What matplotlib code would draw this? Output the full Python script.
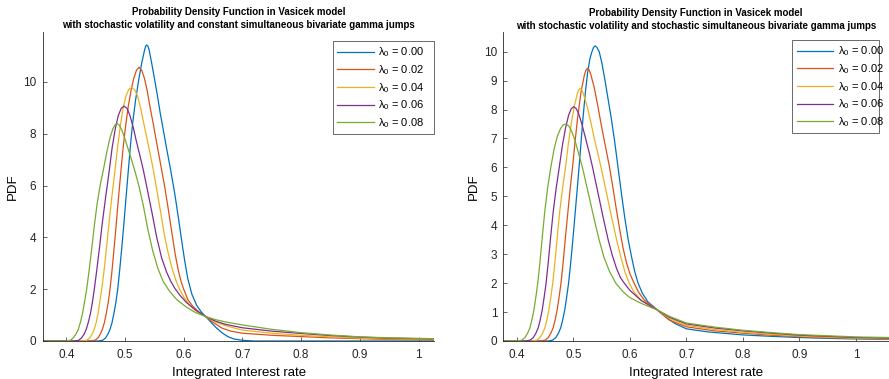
import matplotlib
matplotlib.use("Agg")
import matplotlib.pyplot as plt

plt.rcParams['font.family'] = ['Liberation Sans', 'DejaVu Sans']
plt.rcParams['mathtext.fontset'] = 'custom'
plt.rcParams['mathtext.rm'] = 'Liberation Sans'
plt.rcParams['mathtext.it'] = 'Liberation Sans'

labels = ['$\\lambda_0$ = 0.00', '$\\lambda_0$ = 0.02', '$\\lambda_0$ = 0.04',
          '$\\lambda_0$ = 0.06', '$\\lambda_0$ = 0.08']
colors = ['#0072BD', '#D95319', '#EDB120', '#7E2F8E', '#77AC30']

titles = ['Probability Density Function in Vasicek model\n'
          'with stochastic volatility and constant simultaneous bivariate gamma jumps',
          'Probability Density Function in Vasicek model\n'
          'with stochastic volatility and stochastic simultaneous bivariate gamma jumps']

# ---- left panel: constant jumps ----
a_x0 = [0.3608, 0.455, 0.462, 0.467, 0.471, 0.4745, 0.478, 0.481, 0.4845, 0.4876,
        0.491, 0.4945, 0.498, 0.5018, 0.5057, 0.5095, 0.513, 0.518, 0.5235, 0.5284,
        0.533, 0.535, 0.537, 0.539, 0.541, 0.5455, 0.550, 0.555, 0.560, 0.566,
        0.5715, 0.5778, 0.585, 0.591, 0.597, 0.602, 0.607, 0.614, 0.622, 0.630,
        0.6375, 0.645, 0.655, 0.665, 0.675, 0.685, 0.70, 0.72, 1.0264]
a_y0 = [0, 0, 0.03, 0.12, 0.27, 0.45, 0.72, 1.05, 1.5, 2.0,
        2.75, 3.6, 4.5, 5.55, 6.6, 7.6, 8.4, 9.3, 10.1, 10.72,
        11.2, 11.37, 11.43, 11.38, 11.25, 10.72, 10.15, 9.5, 8.8, 8.05,
        7.35, 6.6, 5.65, 4.75, 3.8, 3.05, 2.4, 1.8, 1.38, 1.12,
        0.94, 0.76, 0.52, 0.32, 0.17, 0.08, 0.025, 0.0, 0.0]

a_x1 = [0.3608, 0.442, 0.449, 0.454, 0.458, 0.4615, 0.465, 0.468, 0.4715, 0.4745,
        0.478, 0.4815, 0.485, 0.489, 0.4932, 0.497, 0.501, 0.5055, 0.5105, 0.515,
        0.5195, 0.524, 0.5285, 0.533, 0.5375, 0.5425, 0.548, 0.5535, 0.558, 0.5625,
        0.568, 0.574, 0.580, 0.5855, 0.591, 0.5955, 0.600, 0.607, 0.615, 0.626,
        0.6375, 0.650, 0.665, 0.68, 0.70, 0.75, 0.80, 0.85, 0.90, 0.95, 1.0264]
a_y1 = [0, 0, 0.03, 0.12, 0.27, 0.45, 0.72, 1.05, 1.5, 2.0,
        2.75, 3.6, 4.5, 5.55, 6.6, 7.5, 8.3, 9.05, 9.7, 10.15,
        10.45, 10.57, 10.45, 10.15, 9.7, 9.05, 8.4, 7.7, 7.15, 6.6,
        5.9, 5.05, 4.15, 3.35, 2.7, 2.3, 2.0, 1.6, 1.35, 1.12,
        0.94, 0.72, 0.5, 0.38, 0.3, 0.22, 0.17, 0.12, 0.09, 0.06, 0.045]

a_x2 = [0.3608, 0.428, 0.435, 0.440, 0.444, 0.4475, 0.451, 0.454, 0.457, 0.4603,
        0.4645, 0.4685, 0.4725, 0.4775, 0.483, 0.4875, 0.492, 0.4965, 0.5015, 0.5065,
        0.5114, 0.5165, 0.5215, 0.5265, 0.532, 0.5375, 0.543, 0.5483, 0.554, 0.5605,
        0.567, 0.5735, 0.5795, 0.5865, 0.593, 0.600, 0.609, 0.620, 0.6375, 0.650,
        0.67, 0.70, 0.75, 0.80, 0.85, 0.90, 0.95, 1.0264]
a_y2 = [0, 0, 0.03, 0.12, 0.27, 0.45, 0.72, 1.05, 1.5, 2.0,
        2.75, 3.6, 4.5, 5.55, 6.6, 7.5, 8.3, 8.95, 9.45, 9.72,
        9.79, 9.7, 9.45, 9.0, 8.4, 7.8, 7.2, 6.6, 5.85, 5.0,
        4.1, 3.4, 2.85, 2.35, 2.0, 1.7, 1.42, 1.18, 0.94, 0.78,
        0.6, 0.42, 0.3, 0.22, 0.16, 0.11, 0.08, 0.06]

a_x3 = [0.3608, 0.414, 0.421, 0.426, 0.4305, 0.434, 0.4375, 0.441, 0.4445, 0.4477,
        0.452, 0.4565, 0.461, 0.467, 0.4733, 0.478, 0.4835, 0.4885, 0.4935, 0.4983,
        0.5035, 0.5085, 0.514, 0.5195, 0.5255, 0.5312, 0.538, 0.546, 0.554, 0.5625,
        0.571, 0.578, 0.585, 0.594, 0.605, 0.62, 0.6375, 0.655, 0.67, 0.70,
        0.75, 0.80, 0.85, 0.90, 0.95, 1.0264]
a_y3 = [0, 0, 0.03, 0.12, 0.27, 0.45, 0.72, 1.05, 1.5, 2.0,
        2.75, 3.6, 4.5, 5.55, 6.6, 7.45, 8.2, 8.7, 8.98, 9.07,
        8.98, 8.7, 8.25, 7.7, 7.15, 6.6, 5.85, 4.95, 4.0, 3.2,
        2.65, 2.3, 2.03, 1.75, 1.48, 1.2, 0.94, 0.76, 0.65, 0.51,
        0.38, 0.29, 0.21, 0.15, 0.11, 0.08]

a_x4 = [0.3608, 0.400, 0.407, 0.412, 0.4165, 0.4205, 0.424, 0.4275, 0.431, 0.4347,
        0.439, 0.4435, 0.448, 0.4525, 0.458, 0.4635, 0.469, 0.4745, 0.4795, 0.4835,
        0.4865, 0.4905, 0.495, 0.500, 0.5055, 0.511, 0.517, 0.524, 0.531, 0.539,
        0.547, 0.556, 0.565, 0.575, 0.588, 0.605, 0.62, 0.6375, 0.655, 0.67,
        0.70, 0.75, 0.80, 0.85, 0.90, 0.95, 1.0264]
a_y4 = [0, 0, 0.03, 0.12, 0.27, 0.45, 0.72, 1.05, 1.5, 2.0,
        2.75, 3.6, 4.5, 5.3, 6.05, 6.65, 7.3, 7.85, 8.2, 8.36,
        8.40, 8.33, 8.12, 7.8, 7.4, 7.0, 6.55, 5.95, 5.25, 4.3,
        3.5, 2.8, 2.3, 1.95, 1.6, 1.3, 1.1, 0.94, 0.82, 0.74,
        0.62, 0.45, 0.32, 0.23, 0.16, 0.12, 0.09]

# ---- right panel: stochastic jumps ----
b_x0 = [0.375, 0.455, 0.4635, 0.469, 0.4735, 0.4775, 0.481, 0.4845, 0.488, 0.4915,
        0.4955, 0.4995, 0.5035, 0.507, 0.510, 0.5135, 0.517, 0.521, 0.525, 0.5292,
        0.5328, 0.5358, 0.5386, 0.5415, 0.5457, 0.5505, 0.556, 0.5615, 0.567, 0.573,
        0.579, 0.585, 0.591, 0.597, 0.603, 0.6085, 0.6145, 0.622, 0.632, 0.6487,
        0.665, 0.68, 0.70, 0.74, 0.80, 0.85, 0.90, 0.95, 1.00, 1.0584]
b_y0 = [0, 0, 0.03, 0.12, 0.27, 0.45, 0.72, 1.05, 1.5, 2.0,
        2.75, 3.6, 4.5, 5.3, 6.0, 6.85, 7.7, 8.55, 9.25, 9.75,
        10.0, 10.15, 10.2, 10.15, 10.0, 9.6, 9.0, 8.35, 7.7, 6.9,
        6.0, 5.1, 4.25, 3.5, 2.9, 2.4, 2.0, 1.65, 1.35, 1.07,
        0.8, 0.6, 0.42, 0.31, 0.21, 0.16, 0.12, 0.09, 0.07, 0.06]

b_x1 = [0.375, 0.4416, 0.4501, 0.4556, 0.4601, 0.4641, 0.4676, 0.4711, 0.4746, 0.4781,
        0.4821, 0.486, 0.4905, 0.4945, 0.4985, 0.503, 0.508, 0.5135, 0.519, 0.522,
        0.5252, 0.528, 0.531, 0.537, 0.543, 0.5495, 0.5565, 0.564, 0.570, 0.576,
        0.582, 0.588, 0.594, 0.6005, 0.6074, 0.615, 0.626, 0.6487, 0.67, 0.70,
        0.75, 0.80, 0.85, 0.90, 0.95, 1.00, 1.0584]
b_y1 = [0, 0, 0.03, 0.12, 0.27, 0.45, 0.72, 1.05, 1.5, 2.0,
        2.75, 3.6, 4.5, 5.3, 6.0, 6.9, 7.8, 8.6, 9.15, 9.35,
        9.43, 9.37, 9.2, 8.75, 8.15, 7.45, 6.75, 6.0, 5.3, 4.55,
        3.85, 3.2, 2.7, 2.3, 2.0, 1.7, 1.4, 1.07, 0.72, 0.49,
        0.35, 0.27, 0.2, 0.15, 0.11, 0.09, 0.07]

b_x2 = [0.375, 0.427, 0.4355, 0.441, 0.4455, 0.4495, 0.453, 0.4565, 0.46, 0.4635,
        0.4675, 0.4715, 0.476, 0.481, 0.486, 0.491, 0.4965, 0.502, 0.507, 0.5095,
        0.5122, 0.515, 0.518, 0.5245, 0.531, 0.537, 0.543, 0.549, 0.5555, 0.562,
        0.569, 0.5765, 0.584, 0.591, 0.5987, 0.607, 0.62, 0.6487, 0.67, 0.70,
        0.75, 0.80, 0.85, 0.90, 0.95, 1.00, 1.0584]
b_y2 = [0, 0, 0.03, 0.12, 0.27, 0.45, 0.72, 1.05, 1.5, 2.0,
        2.75, 3.6, 4.5, 5.3, 6.0, 6.8, 7.55, 8.15, 8.55, 8.68,
        8.73, 8.68, 8.52, 8.1, 7.55, 7.0, 6.5, 6.0, 5.4, 4.8,
        4.15, 3.5, 2.9, 2.4, 2.0, 1.7, 1.4, 1.07, 0.78, 0.54,
        0.4, 0.3, 0.23, 0.17, 0.13, 0.1, 0.08]

b_x3 = [0.375, 0.4152, 0.4237, 0.4292, 0.4337, 0.4377, 0.4412, 0.4447, 0.4482, 0.4517,
        0.4557, 0.4598, 0.4645, 0.4697, 0.475, 0.4805, 0.486, 0.4915, 0.496, 0.5005,
        0.505, 0.5095, 0.515, 0.521, 0.5275, 0.534, 0.5405, 0.547, 0.554, 0.5615,
        0.569, 0.5765, 0.583, 0.59, 0.60, 0.62, 0.6487, 0.67, 0.70, 0.75,
        0.80, 0.85, 0.90, 0.95, 1.00, 1.0584]
b_y3 = [0, 0, 0.03, 0.12, 0.27, 0.45, 0.72, 1.05, 1.5, 2.0,
        2.75, 3.6, 4.5, 5.3, 6.0, 6.75, 7.35, 7.8, 8.02, 8.10,
        8.03, 7.85, 7.5, 7.05, 6.55, 6.0, 5.4, 4.8, 4.15, 3.5,
        2.95, 2.5, 2.2, 2.0, 1.75, 1.4, 1.07, 0.82, 0.59, 0.45,
        0.35, 0.27, 0.2, 0.16, 0.12, 0.1]

b_x4 = [0.375, 0.4005, 0.409, 0.4145, 0.419, 0.423, 0.4265, 0.43, 0.4335, 0.437,
        0.441, 0.445, 0.4495, 0.4545, 0.46, 0.466, 0.472, 0.4775, 0.482, 0.487,
        0.492, 0.497, 0.5025, 0.509, 0.516, 0.523, 0.530, 0.5375, 0.5455, 0.554,
        0.564, 0.575, 0.588, 0.60, 0.62, 0.6487, 0.67, 0.70, 0.75, 0.80,
        0.85, 0.90, 0.95, 1.00, 1.0584]
b_y4 = [0, 0, 0.03, 0.12, 0.27, 0.45, 0.72, 1.05, 1.5, 2.0,
        2.75, 3.6, 4.5, 5.3, 6.0, 6.65, 7.1, 7.35, 7.47, 7.5,
        7.43, 7.25, 6.95, 6.5, 6.0, 5.4, 4.8, 4.15, 3.5, 2.9,
        2.4, 2.0, 1.7, 1.5, 1.3, 1.07, 0.85, 0.62, 0.48, 0.37,
        0.29, 0.22, 0.18, 0.14, 0.12]

panels = [
    ([a_x0, a_x1, a_x2, a_x3, a_x4], [a_y0, a_y1, a_y2, a_y3, a_y4]),
    ([b_x0, b_x1, b_x2, b_x3, b_x4], [b_y0, b_y1, b_y2, b_y3, b_y4]),
]

fig = plt.figure(figsize=(8.89, 3.79), dpi=100)
ax1 = fig.add_axes([0.0487, 0.1003, 0.4395, 0.816])
ax2 = fig.add_axes([0.5655, 0.1003, 0.4345, 0.8145])
axes = [ax1, ax2]

xlims = [(0.3608, 1.0264), (0.375, 1.0584)]
ylims = [(0, 11.94), (0, 10.67)]
yticks = [[0, 2, 4, 6, 8, 10], list(range(0, 11))]
# legend box (x0, width) in axes fraction, top edge
leg_box = [(0.7407, 0.2593, 0.97), (0.7497, 0.2243, 0.975)]
ypads = [5, 4]

for i, ax in enumerate(axes):
    xs, ys = panels[i]
    for j in range(5):
        ax.plot(xs[j], ys[j], color=colors[j], lw=0.9, label=labels[j])
    ax.set_xlim(*xlims[i])
    ax.set_ylim(*ylims[i])
    ax.set_xticks([0.4, 0.5, 0.6, 0.7, 0.8, 0.9, 1.0])
    ax.set_xticklabels(['0.4', '0.5', '0.6', '0.7', '0.8', '0.9', '1'])
    ax.set_yticks(yticks[i])
    ax.spines['top'].set_visible(False)
    ax.spines['right'].set_visible(False)
    for s in ['left', 'bottom']:
        ax.spines[s].set_color('#262626')
        ax.spines[s].set_linewidth(0.6)
    ax.tick_params(direction='in', length=3, width=0.5, colors='#262626', labelsize=8.5)
    ax.tick_params(axis='x', pad=5.5)
    ax.tick_params(axis='y', pad=ypads[i])
    ax.set_xlabel('Integrated Interest rate', fontsize=9.5, labelpad=4.5)
    ax.set_ylabel('PDF', fontsize=9.5, labelpad=3)
    ax.set_title(titles[i], fontsize=7, fontweight='bold', pad=2.5, linespacing=1.4)
    x0, w, top = leg_box[i]
    leg = ax.legend(loc='upper right', bbox_to_anchor=(x0, 0, w, top), mode='expand',
                    fontsize=8, frameon=True, fancybox=False, handlelength=3.3,
                    handletextpad=0.4, labelspacing=0.35, borderpad=0.4, borderaxespad=0)
    leg.get_frame().set_edgecolor('#262626')
    leg.get_frame().set_linewidth(0.6)

fig.savefig('out.png', dpi=100)
